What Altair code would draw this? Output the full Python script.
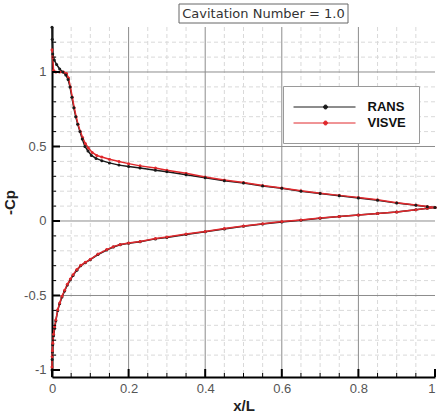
import altair as alt
import pandas as pd

# ---------------- data ----------------
series_names = ["RANS", "VISVE"]
series_colors = ["#1a1a1a", "#e0282c"]
title_text = "Cavitation Number = 1.0"

x_up_rans = [0.0, 0.0005, 0.002, 0.006, 0.012, 0.02, 0.028, 0.036, 0.042, 0.047, 0.052, 0.057,
             0.062, 0.067, 0.073, 0.079, 0.086, 0.094, 0.103, 0.115, 0.13, 0.15, 0.175, 0.2,
             0.23, 0.27, 0.3, 0.35, 0.4, 0.45, 0.5, 0.55, 0.6, 0.65, 0.7, 0.75, 0.8, 0.85,
             0.9, 0.95, 0.98, 1.0]
cp_up_rans = [1.30, 1.22, 1.12, 1.08, 1.05, 1.02, 1.00, 0.98, 0.95, 0.90, 0.83, 0.76,
              0.70, 0.65, 0.60, 0.55, 0.50, 0.47, 0.44, 0.42, 0.405, 0.39, 0.375, 0.365,
              0.355, 0.34, 0.33, 0.31, 0.29, 0.27, 0.255, 0.235, 0.22, 0.20, 0.185, 0.17,
              0.155, 0.14, 0.12, 0.105, 0.095, 0.09]

x_up_visve = [0.0, 0.002, 0.004, 0.01, 0.02, 0.03, 0.038, 0.043, 0.048, 0.053, 0.058, 0.063,
              0.068, 0.074, 0.080, 0.087, 0.095, 0.105, 0.117, 0.13, 0.15, 0.175, 0.2, 0.23,
              0.27, 0.3, 0.35, 0.4, 0.45, 0.5, 0.55, 0.6, 0.65, 0.7, 0.75, 0.8, 0.85, 0.9,
              0.95, 0.98, 1.0]
cp_up_visve = [1.15, 1.10, 1.01, 1.00, 1.00, 1.00, 0.99, 0.96, 0.90, 0.83, 0.76, 0.70,
               0.65, 0.60, 0.56, 0.52, 0.49, 0.46, 0.44, 0.43, 0.415, 0.40, 0.385, 0.37,
               0.355, 0.34, 0.32, 0.295, 0.275, 0.258, 0.238, 0.222, 0.203, 0.187, 0.172,
               0.157, 0.142, 0.122, 0.107, 0.097, 0.09]

x_lo_rans = [0.0, 0.0005, 0.001, 0.002, 0.004, 0.007, 0.01, 0.015, 0.02, 0.026, 0.033, 0.04,
             0.048, 0.055, 0.065, 0.075, 0.087, 0.1, 0.12, 0.143, 0.16, 0.178, 0.2, 0.23,
             0.27, 0.3, 0.35, 0.4, 0.45, 0.5, 0.55, 0.6, 0.65, 0.7, 0.75, 0.8, 0.85, 0.9,
             0.95, 0.98, 1.0]
cp_lo_rans = [-1.0, -0.93, -0.88, -0.83, -0.77, -0.72, -0.67, -0.60, -0.555, -0.51, -0.47,
              -0.43, -0.395, -0.365, -0.33, -0.30, -0.28, -0.26, -0.225, -0.195, -0.175,
              -0.16, -0.15, -0.14, -0.12, -0.11, -0.09, -0.072, -0.053, -0.035, -0.02,
              -0.006, 0.005, 0.018, 0.03, 0.04, 0.05, 0.06, 0.075, 0.085, 0.09]

x_lo_visve = [0.0, 0.0005, 0.001, 0.002, 0.004, 0.007, 0.01, 0.015, 0.02, 0.026, 0.033, 0.04,
              0.048, 0.055, 0.065, 0.075, 0.087, 0.1, 0.12, 0.143, 0.16, 0.178, 0.2, 0.23,
              0.27, 0.3, 0.35, 0.4, 0.45, 0.5, 0.55, 0.6, 0.65, 0.7, 0.75, 0.8, 0.85, 0.9,
              0.95, 0.98, 1.0]
cp_lo_visve = [-0.98, -0.91, -0.87, -0.82, -0.76, -0.71, -0.665, -0.595, -0.55, -0.505, -0.465,
               -0.425, -0.39, -0.36, -0.325, -0.297, -0.277, -0.257, -0.222, -0.192, -0.172,
               -0.158, -0.148, -0.138, -0.118, -0.108, -0.088, -0.07, -0.051, -0.033, -0.018,
               -0.004, 0.007, 0.02, 0.031, 0.041, 0.051, 0.061, 0.076, 0.086, 0.09]

x_major = [0, 0.2, 0.4, 0.6, 0.8, 1]
y_major = [-1, -0.5, 0, 0.5, 1]
x_grid_major = [0.2, 0.4, 0.6, 0.8]
y_grid_major = [-0.5, 0, 0.5, 1]
x_minor = [0.05, 0.1, 0.15, 0.25, 0.3, 0.35, 0.45, 0.5, 0.55, 0.65, 0.7, 0.75, 0.85, 0.9, 0.95]
y_minor = [-0.9, -0.8, -0.7, -0.6, -0.4, -0.3, -0.2, -0.1, 0.1, 0.2, 0.3, 0.4, 0.6, 0.7,
           0.8, 0.9, 1.1, 1.2]

# ---------------- tables ----------------
rows = []
for s, surf, xs, cps in [("RANS", "RANS-up", x_up_rans, cp_up_rans),
                         ("RANS", "RANS-lo", x_lo_rans, cp_lo_rans),
                         ("VISVE", "VISVE-up", x_up_visve, cp_up_visve),
                         ("VISVE", "VISVE-lo", x_lo_visve, cp_lo_visve)]:
    for i, (xv, cv) in enumerate(zip(xs, cps)):
        rows.append({"series": s, "surface": surf, "idx": i, "x": xv, "cp": cv})
df = pd.DataFrame(rows)

W, H = 383, 350
xscale = alt.Scale(domain=[0, 1], nice=False, zero=False)
yscale = alt.Scale(domain=[-1.047, 1.302], nice=False, zero=False)

xaxis = alt.Axis(
    values=x_major, labelExpr="datum.value + ''", ticks=False, grid=False,
    domainColor="black", domainWidth=2, labelFont="Liberation Sans", labelFontSize=13,
    labelColor="#555555", labelPadding=5, labelFlush=False, labelOverlap=False,
    labelAlign={"condition": {"test": "datum.value >= 1", "value": "right"}, "value": "center"},
    title="x/L", titleFont="Liberation Sans", titleFontSize=15, titleFontWeight="bold",
    titleColor="#222222", titlePadding=3)
yaxis = alt.Axis(
    values=y_major, labelExpr="datum.value + ''", ticks=False, grid=False,
    domainColor="black", domainWidth=2, labelFont="Liberation Sans", labelFontSize=13,
    labelColor="#555555", labelPadding=6, labelFlush=False, labelOverlap=False,
    title="-Cp", titleFont="Liberation Sans", titleFontSize=15, titleFontWeight="bold",
    titleColor="#222222", titlePadding=6)


def X(field):
    return alt.X(field, scale=xscale, axis=xaxis, title="x/L")


def Y(field):
    return alt.Y(field, scale=yscale, axis=yaxis, title="-Cp")


dfx_minor = pd.DataFrame({"v": x_minor})
dfy_minor = pd.DataFrame({"v": y_minor})
dfx_gmaj = pd.DataFrame({"v": x_grid_major})
dfy_gmaj = pd.DataFrame({"v": y_grid_major})
dfx_maj = pd.DataFrame({"v": x_major})
dfy_maj = pd.DataFrame({"v": y_major})

grid_x_minor = alt.Chart(dfx_minor).mark_rule(color="#d9d9d9", strokeWidth=1, strokeDash=[4, 3]).encode(
    x=X("v:Q"))
grid_y_minor = alt.Chart(dfy_minor).mark_rule(color="#d9d9d9", strokeWidth=1, strokeDash=[4, 3]).encode(
    y=Y("v:Q"))
grid_x_major = alt.Chart(dfx_gmaj).mark_rule(color="#8c8c8c", strokeWidth=1).encode(
    x=X("v:Q"))
grid_y_major = alt.Chart(dfy_gmaj).mark_rule(color="#8c8c8c", strokeWidth=1).encode(
    y=Y("v:Q"))

tick_x_major = alt.Chart(dfx_maj).mark_rule(color="black", strokeWidth=2).encode(
    x=X("v:Q"), y=alt.value(H), y2=alt.value(H - 8))
tick_x_minor = alt.Chart(dfx_minor).mark_rule(color="black", strokeWidth=1).encode(
    x=X("v:Q"), y=alt.value(H), y2=alt.value(H - 4))
tick_y_major = alt.Chart(dfy_maj).mark_rule(color="black", strokeWidth=2).encode(
    y=Y("v:Q"), x=alt.value(0), x2=alt.value(8))
tick_y_minor = alt.Chart(dfy_minor).mark_rule(color="black", strokeWidth=1).encode(
    y=Y("v:Q"), x=alt.value(0), x2=alt.value(4))

legend_path = "M-1.31,0L6.44,0M2.44,0A0.25,0.25 0 1 1 2.94,0A0.25,0.25 0 1 1 2.44,0"

lines = alt.Chart(df).mark_line(
    strokeWidth=1.5,
    point=alt.OverlayMarkDef(size=9, filled=True, opacity=1)
).encode(
    x=X("x:Q"),
    y=Y("cp:Q"),
    color=alt.Color("series:N", scale=alt.Scale(domain=series_names, range=series_colors),
                    legend=alt.Legend(
                        title=None, orient="none", legendX=231, legendY=59,
                        padding=12.5, strokeColor="#9a9a9a", fillColor="white",
                        symbolType=legend_path, symbolSize=256, symbolStrokeWidth=1,
                        labelFont="Liberation Sans", labelFontSize=13, labelFontWeight="bold",
                        labelColor="#111111", labelOffset=55, rowPadding=0)),
    detail="surface:N",
    order="idx:Q",
)

title_df = pd.DataFrame({"t": [title_text]})
title_box = alt.Chart(title_df).mark_rect(fill="white", stroke="#666666", strokeWidth=1).encode(
    x=alt.value(127), x2=alt.value(296), y=alt.value(-23), y2=alt.value(-4))
title_txt = alt.Chart(title_df).mark_text(
    font="DejaVu Sans", fontSize=13, color="#333333", align="center", baseline="middle"
).encode(text="t:N", x=alt.value(211.5), y=alt.value(-13))

chart = alt.layer(
    grid_x_minor, grid_y_minor, grid_x_major, grid_y_major,
    lines,
    tick_x_major, tick_x_minor, tick_y_major, tick_y_minor,
    title_box, title_txt
).properties(
    width=W, height=H,
    autosize=alt.AutoSizeParams(type="none"),
    padding={"left": 52, "top": 27, "right": 2, "bottom": 36},
    background="white"
).configure_view(stroke=None)

chart.save("out.html", embed_options={"renderer": "svg", "actions": False})
